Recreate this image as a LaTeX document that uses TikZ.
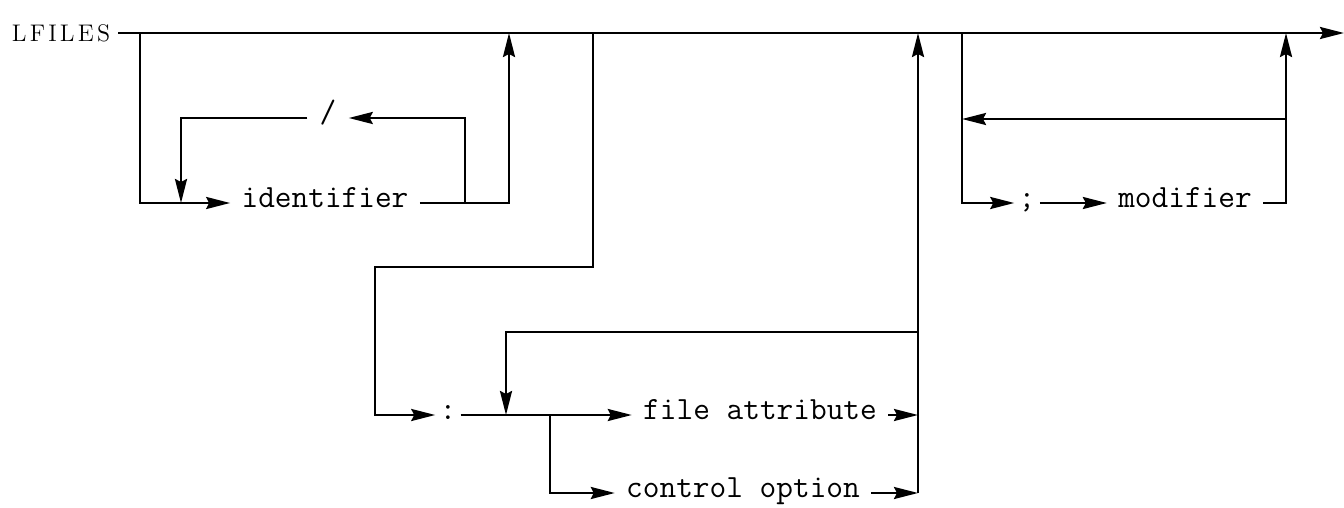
\documentclass[tikz,border=0pt]{standalone}
\usepackage{fontspec}
\usetikzlibrary{arrows.meta}
\newcommand{\lsp}{\kern1.6pt}

\tikzset{
	flow/.style={line width=1.25pt},
	tip/.style={-{Stealth[length=12pt, width=6pt, inset=1.5pt]}},
	word/.style={font=\ttfamily\fontsize{16.2pt}{18pt}\selectfont, anchor=mid, inner xsep=5.5pt, inner ysep=0pt},
	sign/.style={word, inner xsep=2pt},
	title/.style={font=\fontsize{12pt}{14pt}\selectfont, anchor=east, inner xsep=3.75pt, inner ysep=0pt}
}

\begin{document}
\begin{tikzpicture}[x=0.5pt, y=-0.5pt]
		\useasboundingbox (0,0) rectangle (1344,508);
		% junctions on the main line
		\coordinate (m1) at (140,33);
		\coordinate (m2) at (509,33);
		\coordinate (m3) at (593,33);
		\coordinate (m4) at (918,33);
		\coordinate (m5) at (962,33);
		\coordinate (m6) at (1286,33);
		\coordinate (mend) at (1344,33);
		% terms
		\node[title] (lfiles) at (118,33) {L\lsp F\lsp I\lsp L\lsp E\lsp S};
		\node[word] (ident) at (325,203) {identifier};
		\node[sign, inner xsep=6pt] (slash) at (328,118) {/};
		\node[sign] (colon) at (448,415) {:};
		\node[word] (fattr) at (760,415) {file attribute};
		\node[word] (copt) at (743,493) {control option};
		\node[sign] (semi) at (1027,203) {;};
		\node[word] (modif) at (1185,203) {modifier};
		% other corners
		\coordinate (l1) at (465,203);
		\coordinate (l2) at (181,203);
		\coordinate (b1) at (375,267);
		\coordinate (c1) at (550,415);
		\coordinate (k1) at (506,415);
		\coordinate (k2) at (918,332);
		\coordinate (r1) at (918,415);
		\coordinate (r2) at (918,493);
		\coordinate (s2) at (1286,119);
		\coordinate (s3) at (962,119);
		% main line
		\draw[flow, tip] (lfiles.east) -- (mend);
		% identifier list
		\draw[flow, tip] (m1) |- (ident.mid west);
		\draw[flow, tip] (ident.mid east) -| (m2);
		\draw[flow, tip] (l1) |- (slash.mid east);
		\draw[flow, tip] (slash.mid west) -| (l2);
		% attributes and options
		\draw[flow, tip] (m3) |- (b1) |- (colon.mid west);
		\draw[flow, tip] (colon.mid east) -- (fattr.mid west);
		\draw[flow, tip] (c1) |- (copt.mid west);
		\draw[flow, tip] (fattr.mid east) -- (r1);
		\draw[flow, tip] (copt.mid east) -- (r2);
		\draw[flow, tip] (r2) -- (m4);
		\draw[flow, tip] (k2) -| (k1);
		% modifiers
		\draw[flow, tip] (m5) |- (semi.mid west);
		\draw[flow, tip] (semi.mid east) -- (modif.mid west);
		\draw[flow, tip] (modif.mid east) -| (m6);
		\draw[flow, tip] (s2) -- (s3);
\end{tikzpicture}
\end{document}
